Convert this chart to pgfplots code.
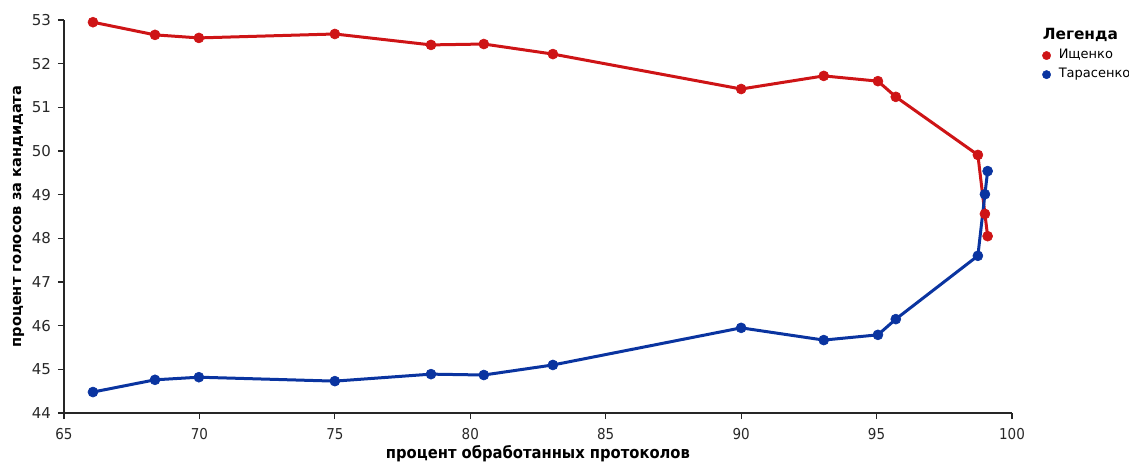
\documentclass[border=0pt]{standalone}
\usepackage{pgfplots}
\pgfplotsset{compat=1.18}
\usepackage{fontspec}
\setmainfont{DejaVu Sans}
\newfontfamily\condfont{DejaVu Sans Condensed}

\definecolor{redline}{RGB}{206,20,22}
\definecolor{blueline}{RGB}{10,52,160}
\definecolor{ticktext}{RGB}{40,40,40}

\begin{document}
\begin{tikzpicture}
\begin{axis}[
    at={(0,0)}, anchor=south west,
    scale only axis,
    width=474pt, height=196.5pt,
    xmin=65, xmax=100,
    ymin=44, ymax=53,
    xtick={65,70,...,100},
    ytick={44,45,...,53},
    axis lines=left,
    axis line style={black!85, line width=0.6pt, -},
    tick style={black!85, line width=0.6pt},
    tick align=outside,
    major tick length=3pt,
    /pgf/number format/assume math mode=true,
    xticklabel style={font=\condfont\fontsize{7.5}{8}\selectfont, text=ticktext, yshift=-1pt},
    yticklabel style={font=\fontsize{7.5}{8}\selectfont, text=ticktext},
    xlabel={\condfont\bfseries процент обработанных протоколов},
    ylabel={\bfseries процент голосов за кандидата},
    xlabel style={font=\fontsize{8.2}{9}\selectfont, yshift=4pt},
    ylabel style={font=\fontsize{7.3}{8}\selectfont, yshift=-3pt},
    legend style={at={(1.0316,0.982)}, anchor=north west, draw=none, fill=none,
        font=\fontsize{6.5}{8}\selectfont, row sep=2.3pt,
        inner sep=0pt, nodes={inner ysep=0.5pt}},
    legend cell align=left,
    legend image code/.code={\draw[#1, mark=*, mark size=2.1pt, mark options={line width=0.2pt}] plot coordinates {(0em,0)};},
    clip=false,
]
\addlegendimage{empty legend}
\addlegendentry{\hspace{-6pt}\raisebox{0pt}[\height][0pt]{\fontsize{7.7}{8}\selectfont\bfseries Легенда}}

\addplot[redline, line width=1.5pt, mark=*, mark size=2.5pt, mark options={line width=0.3pt}] coordinates {
    (66.07,52.95) (68.36,52.66) (69.98,52.59) (75.0,52.68) (78.55,52.43)
    (80.5,52.45) (83.05,52.22) (90.0,51.42) (93.05,51.72) (95.05,51.60)
    (95.71,51.24) (98.74,49.91) (99.0,48.56) (99.1,48.05)
};
\addlegendentry{\hspace{2pt}Ищенко}

\addplot[blueline, line width=1.5pt, mark=*, mark size=2.5pt, mark options={line width=0.3pt}] coordinates {
    (66.07,44.48) (68.36,44.76) (69.98,44.82) (75.0,44.73) (78.55,44.89)
    (80.5,44.87) (83.05,45.10) (90.0,45.95) (93.05,45.67) (95.05,45.79)
    (95.71,46.15) (98.74,47.60) (99.0,49.01) (99.1,49.54)
};
\addlegendentry{\hspace{2pt}Тарасенко}
\end{axis}
\pgfresetboundingbox
\path[use as bounding box] (-32pt,-24pt) rectangle (532.5pt,206.5pt);
\end{tikzpicture}
\end{document}
